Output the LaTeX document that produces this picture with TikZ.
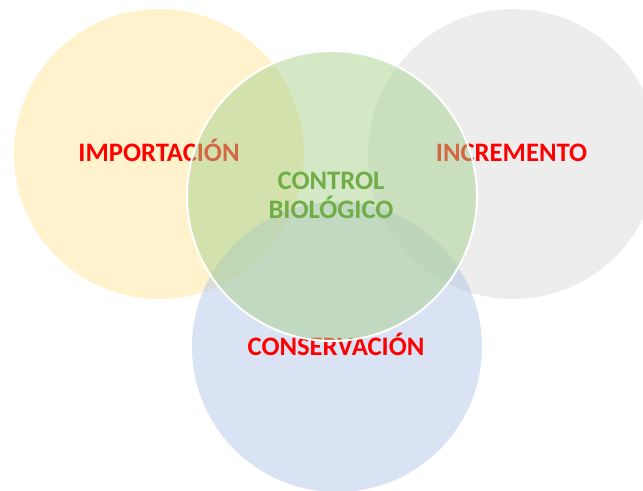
\documentclass[tikz,border=0pt]{standalone}
\usepackage{fontspec}
\setmainfont{Carlito}
\usetikzlibrary{positioning}
\definecolor{setyellow}{HTML}{FFE699}
\definecolor{setgray}{HTML}{DBDBDB}
\definecolor{setblue}{HTML}{B4C7E7}
\definecolor{setgreen}{HTML}{A9D18E}
\definecolor{labelgreen}{HTML}{70AD47}
\tikzset{
  set/.style={circle, inner sep=0pt, minimum size=217.5pt, fill opacity=0.5},
  core/.style={set, draw=white, draw opacity=1, line width=1.5pt},
  label/.style={anchor=base, align=center, text=red, font=\fontsize{20}{21.75}\selectfont\bfseries},
  every node/.style={font=\small}
}

\begin{document}
\begin{tikzpicture}[x=0.75pt,y=-0.75pt]
    \useasboundingbox (0,0) rectangle (643,491);
    \clip (0,0) rectangle (643,491);
    % outer sets
    \node[set, fill=setyellow] (importacion) at (159,154) {};
    \node[set, fill=setgray] (incremento) at (513,154) {};
    \node[set, fill=setblue] (conservacion) at (337,347) {};
    \node[label] (importacionlbl) at (159,162) {IMPORTACIÓN};
    \node[label] (incrementolbl) at (511.5,162) {INCREMENTO};
    \node[label] (conservacionlbl) at (336,356) {CONSERVACIÓN};
    % central set on top
    \node[core, fill=setgreen] (control) at (332,196) {};
    \node[label, text=labelgreen] (controllbl) at (331,219) {CONTROL\\BIOLÓGICO};
\end{tikzpicture}
\end{document}
